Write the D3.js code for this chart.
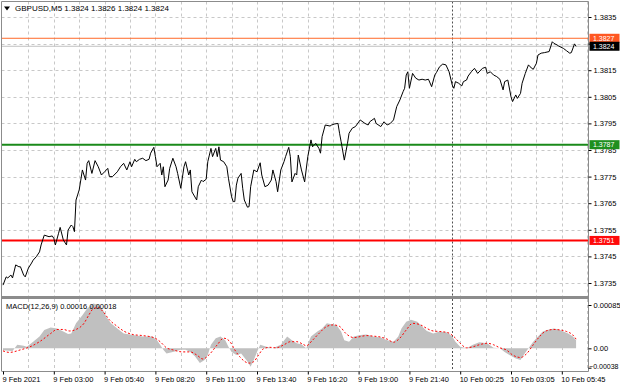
<!DOCTYPE html>
<html>
<head>
<meta charset="utf-8">
<script src="https://cdn.jsdelivr.net/npm/d3@7"></script>
<style>
    body { margin: 0; background: #fff; }
    svg { display: block; font-family: "Liberation Sans", Arial, sans-serif; font-size: 7.5px; }
</style>
</head>
<body>
<svg id="chart" width="620" height="388"></svg>
<script>
'use strict';

const symbolTitle = "GBPUSD,M5  1.3824 1.3826 1.3824 1.3824";
const macdTitle = "MACD(12,26,9) 0.00016 0.00018";

// [bar index from 9 Feb 00:20, close]
const priceSeries = [
    [0,1.37342],[2,1.37373],[3,1.37369],[5,1.37380],[6,1.37369],[8,1.37418],[10,1.37411],[11,1.37411],
    [13,1.37380],[14,1.37373],[16,1.37406],[18,1.37425],[19,1.37436],[21,1.37449],[23,1.37467],[24,1.37493],
    [25,1.37512],[26,1.37530],[29,1.37524],[31,1.37527],[32,1.37518],[33,1.37493],[35,1.37537],[36,1.37559],
    [38,1.37512],[40,1.37493],[41,1.37549],[43,1.37568],[44,1.37562],[45,1.37543],[46,1.37662],[47,1.37681],
    [48,1.37700],[49,1.37737],[50,1.37775],[52,1.37737],[53,1.37800],[54,1.37810],[56,1.37762],[58,1.37810],
    [60,1.37787],[62,1.37756],[64,1.37768],[66,1.37781],[67,1.37750],[69,1.37750],[72,1.37768],[74,1.37787],
    [76,1.37800],[78,1.37775],[80,1.37806],[81,1.37787],[83,1.37815],[84,1.37806],[86,1.37815],[88,1.37819],
    [90,1.37810],[92,1.37815],[93,1.37838],[95,1.37860],[96,1.37825],[97,1.37787],[99,1.37800],[100,1.37756],
    [101,1.37787],[102,1.37712],[104,1.37737],[105,1.37781],[107,1.37819],[109,1.37787],[110,1.37762],[112,1.37706],
    [114,1.37787],[115,1.37806],[117,1.37756],[118,1.37775],[119,1.37693],[122,1.37662],[123,1.37712],[125,1.37737],
    [126,1.37731],[128,1.37740],[129,1.37806],[130,1.37831],[131,1.37856],[132,1.37825],[134,1.37856],[135,1.37825],
    [136,1.37862],[137,1.37812],[139,1.37806],[141,1.37787],[142,1.37744],[144,1.37674],[145,1.37656],[146,1.37656],
    [147,1.37718],[148,1.37744],[150,1.37762],[151,1.37706],[152,1.37662],[154,1.37635],[155,1.37637],[156,1.37712],
    [158,1.37775],[160,1.37768],[162,1.37802],[163,1.37756],[165,1.37712],[167,1.37718],[169,1.37737],[170,1.37775],
    [172,1.37731],[173,1.37693],[175,1.37775],[177,1.37806],[178,1.37825],[180,1.37860],[181,1.37825],[182,1.37730],
    [184,1.37762],[185,1.37756],[186,1.37831],[188,1.37775],[190,1.37730],[192,1.37825],[194,1.37888],[195,1.37862],
    [197,1.37875],[199,1.37856],[200,1.37838],[201,1.37900],[203,1.37944],[206,1.37940],[207,1.37944],[209,1.37948],
    [211,1.37950],[212,1.37913],[213,1.37881],[215,1.37812],[217,1.37875],[218,1.37913],[220,1.37932],[222,1.37938],
    [225,1.37963],[228,1.37950],[230,1.37944],[231,1.37956],[234,1.37969],[235,1.37950],[238,1.37938],[240,1.37956],
    [242,1.37944],[244,1.37950],[246,1.37963],[248,1.38013],[250,1.38038],[252,1.38069],[253,1.38082],[254,1.38132],
    [255,1.38144],[256,1.38082],[258,1.38138],[260,1.38120],[262,1.38113],[264,1.38116],[266,1.38113],[268,1.38116],
    [270,1.38088],[272,1.38132],[273,1.38141],[275,1.38163],[277,1.38173],[279,1.38170],[281,1.38144],[283,1.38094],
    [284,1.38082],[285,1.38107],[287,1.38101],[289,1.38091],[290,1.38107],[292,1.38113],[293,1.38128],[295,1.38144],
    [297,1.38157],[299,1.38138],[302,1.38157],[304,1.38161],[305,1.38138],[307,1.38144],[309,1.38132],[311,1.38126],
    [313,1.38116],[315,1.38076],[316,1.38107],[318,1.38113],[320,1.38050],[321,1.38032],[323,1.38057],[324,1.38044],
    [326,1.38063],[327,1.38101],[329,1.38138],[331,1.38170],[332,1.38163],[334,1.38153],[336,1.38176],[337,1.38207],
    [339,1.38214],[341,1.38216],[344,1.38220],[346,1.38257],[347,1.38251],[349,1.38245],[350,1.38241],[353,1.38232],
    [355,1.38223],[357,1.38214],[358,1.38216],[360,1.38249],[361,1.38240]
];

// [bar, MACD main] drawn as histogram
const macdHist = [
    [0,-0.00004],[6,-0.00005],[9,0.00007],[13,0.00005],[15,0.00003],[19,0.00013],[23,0.00023],[26,0.00036],
    [30,0.00041],[34,0.00039],[38,0.00033],[41,0.00028],[43,0.00029],[46,0.00049],[50,0.00065],[53,0.00078],
    [57,0.00088],[60,0.00085],[63,0.00075],[65,0.00062],[68,0.00049],[72,0.00039],[76,0.00029],[82,0.00026],
    [88,0.00023],[94,0.00023],[97,0.00016],[99,0.00007],[101,-0.00003],[103,-0.0001],[107,-0.00007],[112,-0.00003],
    [115,-0.00003],[118,-0.00007],[121,-0.00016],[124,-0.00029],[127,-0.00023],[129,-0.00013],[131,0.00007],[134,0.0002],
    [137,0.00023],[140,0.00016],[142,0.00003],[144,-0.00007],[147,-0.00013],[150,-0.0001],[154,-0.00026],[156,-0.00036],
    [158,-0.00023],[160,-0.00007],[162,0.00007],[166,0.00003],[170,0],[175,0.00007],[179,0.00023],[182,0.00016],
    [185,0.0001],[188,0.00008],[191,0],[194,0.00023],[198,0.00033],[201,0.00039],[204,0.00049],[207,0.00047],
    [210,0.00046],[213,0.00033],[215,0.00016],[218,0.00013],[221,0.00023],[225,0.00026],[229,0.00027],[233,0.00023],
    [238,0.00021],[242,0.00016],[246,0.00013],[249,0.00023],[251,0.00039],[254,0.00052],[257,0.00056],[261,0.00052],
    [264,0.00043],[267,0.00034],[271,0.00029],[275,0.00033],[280,0.00031],[283,0.00023],[285,0.00013],[288,0.00003],
    [292,0],[296,0.00007],[300,0.00012],[305,0.0001],[309,0.00001],[313,0],[316,-0.00007],[319,-0.00013],
    [323,-0.0002],[326,-0.00023],[328,-0.00013],[331,0],[334,0.00013],[337,0.00023],[340,0.00033],[344,0.00037],
    [347,0.00039],[350,0.00037],[353,0.00033],[356,0.00029],[359,0.00023],[361,0.00016]
];

// [bar, signal]
const macdSignal = [
    [0,-0.00005],[4,-0.00008],[11,-0.00003],[17,0.00003],[23,0.00013],[30,0.00029],[34,0.00037],[38,0.00037],
    [42,0.00034],[46,0.00037],[51,0.00049],[54,0.00065],[57,0.00078],[60,0.0008],[63,0.00072],[67,0.00056],
    [72,0.00043],[76,0.00034],[82,0.00027],[88,0.00025],[95,0.00021],[99,0.00013],[103,0.00001],[107,-0.00003],
    [113,-0.00007],[118,-0.00007],[122,-0.00013],[126,-0.00021],[130,-0.00012],[135,0.00007],[139,0.0002],[143,0.00013],
    [146,-0.00003],[149,-0.00016],[155,-0.00029],[158,-0.00026],[161,-0.00013],[164,-0.00001],[168,0.00002],[172,0.00001],
    [177,0.00007],[181,0.00013],[185,0.00013],[189,0.00008],[191,0.00005],[195,0.00016],[199,0.00029],[204,0.00043],
    [208,0.00046],[212,0.00043],[216,0.00029],[221,0.00021],[225,0.00023],[229,0.00025],[233,0.00024],[238,0.00022],
    [242,0.00018],[246,0.00012],[250,0.0002],[254,0.00036],[258,0.00049],[263,0.00046],[267,0.00039],[271,0.00034],
    [275,0.00033],[280,0.00031],[284,0.00023],[288,0.0001],[292,0.00001],[296,0.00003],[300,0.00007],[305,0.0001],
    [309,0.00007],[313,0.00001],[317,-0.00003],[321,-0.00013],[326,-0.00018],[330,-0.0001],[334,0.00007],[338,0.00023],
    [342,0.00034],[347,0.00037],[351,0.00036],[355,0.00033],[359,0.00026],[361,0.00018]
];

const priceTicks = [1.3735, 1.3745, 1.3755, 1.3765, 1.3775, 1.3785, 1.3795, 1.3805, 1.3815, 1.3825, 1.3835];
const hiddenTickLabels = [1.3825]; // sits under the level boxes
const macdTicks = [0.00085, 0, -0.00038];
const levelPrices = [1.3827, 1.3787, 1.3751];
const lastPrice = 1.3824;
const timeTickBars = [0, 32, 64, 96, 128, 160, 192, 224, 256, 288, 320, 352];
const timeTickLabels = ["9 Feb 2021", "9 Feb 03:00", "9 Feb 05:40", "9 Feb 08:20", "9 Feb 11:00", "9 Feb 13:40",
    "9 Feb 16:20", "9 Feb 19:00", "9 Feb 21:40", "10 Feb 00:25", "10 Feb 03:05", "10 Feb 05:45"];
const gridBars = [16, 32, 48, 64, 80, 96, 112, 128, 144, 160, 176, 192, 208, 224, 240, 256, 272, 288, 304, 320, 336, 352, 368];
const dayStartBar = 283;

let plotLeft = 1.5, plotRight = 588.5;
let mainTop = 1.5, mainBottom = 296, macdTop = 299, macdBottom = 371;
let levelColors = ["#ff6a2a", "#1a8a1a", "#ff0000"];
let levelWidths = [1, 2, 2];
let boxColors = ["#ff5722", "#1f8f1f", "#ff0a0a"];
let axisFont = "Liberation Sans, Arial, sans-serif";

let svg = d3.select("#chart");

let x = d3.scaleLinear().domain([0, 368]).range([3, 587.2]);
let y = d3.scaleLinear().domain([1.3735, 1.3835]).range([283, 17]);
let ym = d3.scaleLinear().domain([-0.00038, 0.00085]).range([367.7, 305]);

svg.append("defs").append("clipPath").attr("id", "mainClip")
    .append("rect").attr("x", plotLeft).attr("y", mainTop).attr("width", plotRight - plotLeft).attr("height", mainBottom - mainTop);
svg.select("defs").append("clipPath").attr("id", "macdClip")
    .append("rect").attr("x", plotLeft).attr("y", macdTop).attr("width", plotRight - plotLeft).attr("height", macdBottom - macdTop);

// grid
let grid = svg.append("g").attr("stroke", "#c8c8c8").attr("stroke-width", 1).attr("stroke-dasharray", "3,3");
grid.selectAll("line.h").data(priceTicks).enter().append("line")
    .attr("x1", plotLeft).attr("x2", plotRight)
    .attr("y1", d => Math.round(y(d)) + 0.5).attr("y2", d => Math.round(y(d)) + 0.5);
[[mainTop, mainBottom], [macdTop, macdBottom]].forEach(function(r) {
    grid.append("g").selectAll("line").data(gridBars).enter().append("line")
        .attr("x1", d => Math.round(x(d)) + 0.5).attr("x2", d => Math.round(x(d)) + 0.5)
        .attr("y1", r[0]).attr("y2", r[1]);
});

// period separator
[[mainTop, mainBottom], [macdTop, macdBottom]].forEach(function(r) {
    svg.append("line")
        .attr("x1", Math.round(x(dayStartBar)) + 0.5).attr("x2", Math.round(x(dayStartBar)) + 0.5)
        .attr("y1", r[0]).attr("y2", r[1])
        .attr("stroke", "#505050").attr("stroke-dasharray", "2,2");
});

let main = svg.append("g").attr("clip-path", "url(#mainClip)");

// bid line
main.append("line")
    .attr("x1", plotLeft).attr("x2", plotRight)
    .attr("y1", y(lastPrice)).attr("y2", y(lastPrice))
    .attr("stroke", "#c0c0c0");

main.selectAll("line.level").data(levelPrices).enter().append("line")
    .attr("x1", plotLeft).attr("x2", plotRight)
    .attr("y1", d => y(d)).attr("y2", d => y(d))
    .attr("stroke", (d, i) => levelColors[i])
    .attr("stroke-width", (d, i) => levelWidths[i]);

main.append("path")
    .datum(priceSeries)
    .attr("fill", "none")
    .attr("stroke", "#000")
    .attr("stroke-width", 1)
    .attr("d", d3.line().x(d => x(d[0])).y(d => y(d[1])));

// MACD panel
let macd = svg.append("g").attr("clip-path", "url(#macdClip)");
macd.append("path")
    .datum(macdHist)
    .attr("fill", "#c0c0c0")
    .attr("d", d3.area().x(d => x(d[0])).y0(ym(0)).y1(d => ym(d[1])));
macd.append("path")
    .datum(macdSignal)
    .attr("fill", "none")
    .attr("stroke", "#ff0000")
    .attr("stroke-width", 1)
    .attr("stroke-dasharray", "2,2")
    .attr("d", d3.line().curve(d3.curveMonotoneX).x(d => x(d[0])).y(d => ym(d[1])));

// frames
let frame = svg.append("g").attr("stroke", "#8c8c8c").attr("fill", "none");
frame.append("line").attr("x1", plotLeft).attr("x2", plotLeft).attr("y1", mainTop).attr("y2", macdBottom);
frame.append("line").attr("x1", plotLeft).attr("x2", plotRight).attr("y1", mainTop).attr("y2", mainTop);
frame.append("line").attr("x1", plotRight).attr("x2", plotRight).attr("y1", mainTop).attr("y2", macdBottom + 0.5);
frame.append("line").attr("x1", plotLeft).attr("x2", plotRight).attr("y1", macdBottom + 0.5).attr("y2", macdBottom + 0.5);
svg.append("rect").attr("x", plotLeft).attr("y", mainBottom).attr("width", plotRight - plotLeft).attr("height", 3)
    .attr("fill", "#8c8c8c");

// price axis
let priceAxis = svg.append("g")
    .attr("transform", `translate(${plotRight},0)`)
    .call(d3.axisRight(y).tickValues(priceTicks).tickSize(3).tickPadding(2)
        .tickFormat(d => hiddenTickLabels.includes(d) ? "" : d3.format(".4f")(d)));
priceAxis.select(".domain").remove();
priceAxis.selectAll("text").attr("fill", "#000").style("font-size", "7.5px").style("font-family", axisFont);

let boxes = svg.append("g");
let boxData = levelPrices.map((p, i) => ({ p: p, fill: boxColors[i] })).concat([{ p: lastPrice, fill: "#000" }]);
boxes.selectAll("rect").data(boxData).enter().append("rect")
    .attr("x", plotRight + 1).attr("width", 30)
    .attr("y", d => y(d.p) - 4.5).attr("height", 9)
    .attr("fill", d => d.fill);
boxes.selectAll("text").data(boxData).enter().append("text")
    .attr("x", plotRight + 4.5).attr("y", d => y(d.p)).attr("dy", "0.32em")
    .attr("fill", "#fff")
    .style("font-size", "7px")
    .text(d => d3.format(".4f")(d.p));

// MACD axis
let macdAxis = svg.append("g")
    .attr("transform", `translate(${plotRight},0)`)
    .call(d3.axisRight(ym).tickValues(macdTicks).tickSize(3).tickPadding(2)
        .tickFormat(d => d === 0 ? "0.00" : d3.format(".5f")(d)));
macdAxis.select(".domain").remove();
macdAxis.selectAll("text").attr("fill", "#000").style("font-size", "7.5px").style("font-family", axisFont);
macdAxis.selectAll(".tick").filter(d => d < 0).select("text")
    .attr("dy", "0.05em").attr("x", 30).attr("text-anchor", "end").style("font-size", "7px");

// time axis
let timeAxis = svg.append("g")
    .attr("transform", `translate(0,${macdBottom + 0.5})`)
    .call(d3.axisBottom(x).tickValues(timeTickBars).tickSize(3).tickPadding(2)
        .tickFormat((d, i) => timeTickLabels[i]));
timeAxis.select(".domain").remove();
timeAxis.selectAll("text").attr("fill", "#000").attr("text-anchor", "start").attr("dx", "-1")
    .style("font-size", "7.5px").style("font-family", axisFont);

// titles
svg.append("path").attr("d", "M4,6.5L10,6.5L7,10.5Z").attr("fill", "#000");
svg.append("text").attr("x", 15).attr("y", 11).attr("fill", "#000").style("font-size", "8px").text(symbolTitle);
svg.append("text").attr("x", 6).attr("y", 309).attr("fill", "#000").text(macdTitle);
</script>
</body>
</html>
